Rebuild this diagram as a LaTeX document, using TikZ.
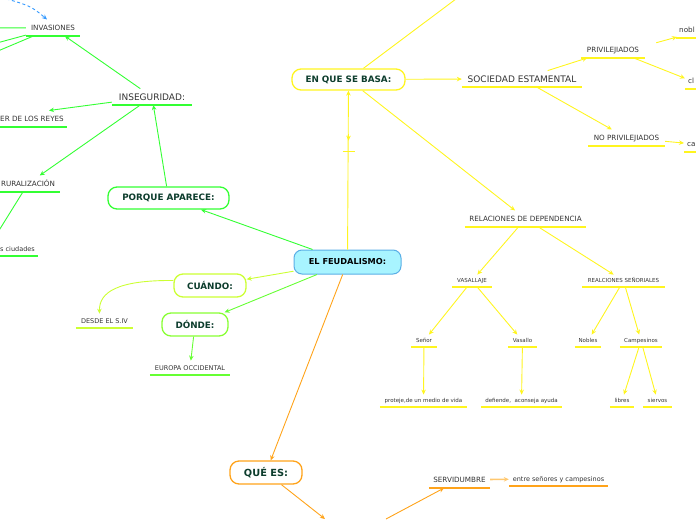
\documentclass[tikz,border=0pt]{standalone}
\usepackage{fontspec}
\setmainfont{DejaVu Sans}
\usepackage{tikz}
\usetikzlibrary{arrows.meta, calc, positioning}
\definecolor{mygreen}{HTML}{33FF33}
\definecolor{mylime}{HTML}{CCFF33}
\definecolor{mydongreen}{HTML}{88FF33}
\definecolor{myleafgreen}{HTML}{66FF33}
\definecolor{myyellow}{HTML}{FFF51F}
\definecolor{myorange}{HTML}{FFA31A}
\definecolor{mylightorange}{HTML}{FFC870}
\definecolor{myblue}{HTML}{3399FF}
\definecolor{mycyan}{HTML}{A8F4FF}
\definecolor{mycyanborder}{HTML}{5AAEE6}
\definecolor{mydarkgreen}{HTML}{0D3D2D}
\definecolor{mytext}{HTML}{333333}
\tikzset{
	topicbox/.style={
			draw=#1, line width=1.3pt, fill=white, rounded corners=9pt,
			text=mydarkgreen, font=\fontsize{8.8}{10}\selectfont\bfseries,
			inner sep=0pt
		}
}
\tikzset{
	mainbox/.style={
			draw=mycyanborder, fill=mycyan, line width=1pt, rounded corners=8pt,
			minimum width=107, minimum height=24, inner sep=0pt,
			font=\fontsize{8.2}{10}\selectfont\bfseries, text=black
		}
}
\tikzset{
	leaftext/.style={
			text=mytext, inner xsep=3pt, text depth=0pt, anchor=south,
			append after command={(\tikzlastnode.south west) edge[draw=#1, line width=1.6pt] (\tikzlastnode.south east)}
		}
}
\tikzset{
	bigleaf/.style={font=\fontsize{9}{10}\selectfont, text height=6.6pt, inner ysep=4.7pt},
	midleaf/.style={font=\fontsize{7.2}{8}\selectfont, text height=5.3pt, inner ysep=5.4pt},
	smallleaf/.style={font=\fontsize{6.5}{7}\selectfont, text height=4.75pt, inner ysep=4.6pt},
	tinyleaf/.style={font=\fontsize{5.5}{6}\selectfont, text height=4pt, inner ysep=4pt}
}
\tikzset{
	conn/.style={line width=0.9pt, -{Stealth[length=5pt,width=4.5pt]}}
}

\begin{document}
\begin{tikzpicture}[x=1pt, y=-1pt]
	\useasboundingbox (0,0) rectangle (696,520);

	\begin{scope}
		\node[mainbox] (feud) at (347.5,262) {EL FEUDALISMO:};
		\node[topicbox=myyellow, minimum width=113, minimum height=21] (basa) at (348.5,79.5) {EN QUE SE BASA:};
		\node[topicbox=mygreen, minimum width=121, minimum height=22] (porque) at (168.5,198) {PORQUE APARECE:};
		\node[topicbox=mylime, minimum width=72, minimum height=23] (cuando) at (210,285.5) {CUÁNDO:};
		\node[topicbox=mydongreen, minimum width=66, minimum height=23] (donde) at (195,324.5) {DÓNDE:};
		\node[topicbox=myorange, minimum width=72, minimum height=23, font=\fontsize{9.8}{11}\selectfont\bfseries] (quees) at (266,472.5) {QUÉ ES:};
	\end{scope}

	\begin{scope}
		\node[leaftext=mygreen, midleaf, minimum width=54] (invas) at (53,36) {INVASIONES};
		\node[leaftext=mygreen, bigleaf, minimum width=80] (inseg) at (152,105) {INSEGURIDAD:};
		\node[leaftext=mygreen, midleaf, anchor=south east] (reyes) at (67,127) {ER DE LOS REYES};
		\node[leaftext=mygreen, midleaf, minimum width=63] (rural) at (28,192) {RURALIZACIÓN};
		\node[leaftext=mygreen, smallleaf, anchor=south east] (ciud) at (38,256) {s ciudades};
		\node[leaftext=mylime, smallleaf, minimum width=57] (desde) at (104.5,328) {DESDE EL S.IV};
		\node[leaftext=myleafgreen, smallleaf, minimum width=80] (europa) at (190,375) {EUROPA OCCIDENTAL};
	\end{scope}

	\begin{scope}
		\node[leaftext=myyellow, bigleaf, minimum width=120] (soc) at (522,87) {SOCIEDAD ESTAMENTAL};
		\node[leaftext=myyellow, midleaf, minimum width=64] (priv) at (613,58) {PRIVILEJIADOS};
		\node[leaftext=myyellow, midleaf, anchor=south west] (nobl) at (676,38) {nobl};
		\node[leaftext=myyellow, midleaf, anchor=south west] (cl) at (685,89) {cl};
		\node[leaftext=myyellow, midleaf, minimum width=77] (nopriv) at (626.5,146) {NO PRIVILEJIADOS};
		\node[leaftext=myyellow, midleaf, anchor=south west] (ca) at (684,152) {ca};
		\node[leaftext=myyellow, midleaf, minimum width=121] (rel) at (525.5,227) {RELACIONES DE DEPENDENCIA};
		\node[leaftext=myyellow, tinyleaf, minimum width=40] (vas) at (472,287) {VASALLAJE};
		\node[leaftext=myyellow, tinyleaf, minimum width=83] (senoriales) at (623.5,287) {REALCIONES SEÑORIALES};
		\node[leaftext=myyellow, tinyleaf, minimum width=26] (senor) at (424,347) {Señor};
		\node[leaftext=myyellow, tinyleaf, minimum width=29] (vasallo) at (522.5,347) {Vasallo};
		\node[leaftext=myyellow, tinyleaf, minimum width=26] (nobles) at (588,347) {Nobles};
		\node[leaftext=myyellow, tinyleaf, minimum width=42] (campes) at (641,347) {Campesinos};
		\node[leaftext=myyellow, tinyleaf, minimum width=87] (proteje) at (423.5,407) {proteje,de un medio de vida};
		\node[leaftext=myyellow, tinyleaf, minimum width=81] (defiende) at (521.5,407) {defiende, \ aconseja ayuda};
		\node[leaftext=myyellow, tinyleaf, minimum width=24] (libres) at (622,407) {libres};
		\node[leaftext=myyellow, tinyleaf, minimum width=29] (siervos) at (657.5,407) {siervos};
	\end{scope}

	\begin{scope}
		\node[leaftext=myorange, midleaf, minimum width=61] (serv) at (459.5,488) {SERVIDUMBRE};
		\node[leaftext=myorange, smallleaf, minimum width=99] (entre) at (558.5,486) {entre señores y campesinos};
	\end{scope}

	\coordinate (basaup) at (508,-40);
	\coordinate (invleft) at (-40,28);
	\coordinate (invleftA) at (-40,53);
	\coordinate (invleftB) at (-40,67);
	\coordinate (bluestart) at (-20,-8);
	\coordinate (queesdown) at (325,519);
	\coordinate (servfrom) at (386,519);

	\begin{scope}[mygreen]
		\draw[conn] (invas) -- (invleft);
		\draw[conn] (invas) -- (invleftA);
		\draw[conn] (invas) -- (invleftB);
		\draw[conn] (inseg) -- (invas);
		\draw[conn] (inseg) -- ($(reyes.north east)+(-18,0)$);
		\draw[conn] (inseg) -- (rural);
		\draw[conn] (rural) -- ($(ciud.north west)+(-5,0)$);
		\draw[conn] (porque) -- (inseg);
		\draw[conn] (feud) -- (porque);
	\end{scope}

	\draw[conn, myblue, dash pattern=on 3pt off 2.5pt] (bluestart) .. controls (30,5) .. ($(invas.north)+(-6,0)$);

	\draw[conn, mylime] (feud) -- (cuando);
	\draw[conn, mylime] ($(cuando.west)+(0,-5)$) .. controls (118,280) and (99,292) .. ($(desde.north)+(-5,0)$);
	\draw[conn, myleafgreen] (feud) -- (donde);
	\draw[conn, myleafgreen] (donde) -- (europa);

	\begin{scope}[myorange]
		\draw[conn] (feud) -- (quees);
		\draw[conn] (quees) -- (queesdown);
		\draw[conn] (servfrom) -- (serv);
		\draw[conn, mylightorange, line width=1.6pt] (serv) -- (entre);
	\end{scope}

	\begin{scope}[myyellow]
		\draw[conn] (feud) -- (basa);
		\draw[conn] ($(basa.south)+(0,43)$) -- ($(basa.south)+(0,50)$);
		\draw[line width=1.2pt] ($(basa.south)+(-6,61)$) -- ($(basa.south)+(6,61)$);
		\draw[conn] (basa) -- (soc);
		\draw[conn] (basa) -- (basaup);
		\draw[conn] (basa) -- (rel);
		\draw[conn] (soc) -- (priv);
		\draw[conn] (soc) -- (nopriv);
		\draw[conn] ($(priv.east)+(11,-7)$) -- ($(nobl.south west)+(1,-1)$);
		\draw[conn] (priv) -- (cl);
		\draw[conn] (nopriv) -- (ca);
		\draw[conn] (rel) -- (vas);
		\draw[conn] (rel) -- (senoriales);
		\draw[conn] (vas) -- (senor);
		\draw[conn] (vas) -- (vasallo);
		\draw[conn] (senoriales) -- (nobles);
		\draw[conn] (senoriales) -- (campes);
		\draw[conn] (senor) -- (proteje);
		\draw[conn] (vasallo) -- (defiende);
		\draw[conn] (campes) -- (libres);
		\draw[conn] (campes) -- (siervos);
	\end{scope}

\end{tikzpicture}
\end{document}
